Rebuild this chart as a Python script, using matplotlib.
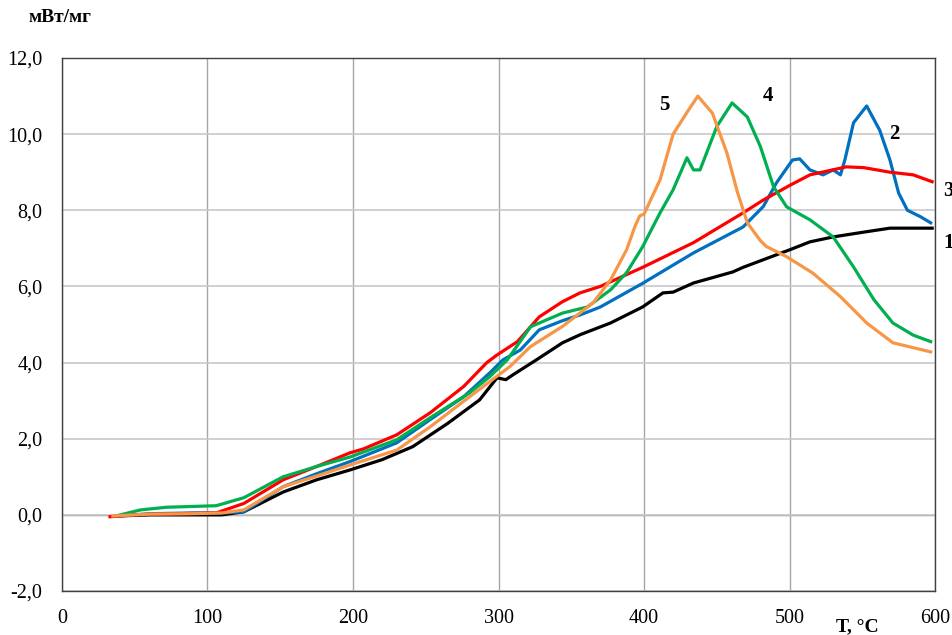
import matplotlib
matplotlib.use("Agg")
import matplotlib.pyplot as plt
from matplotlib.ticker import FuncFormatter, MultipleLocator

plt.rcParams["font.family"] = ["Liberation Serif", "DejaVu Serif"]

# curve 1 (black)
t1 = [38, 60, 90, 110, 125, 152, 175, 198, 220, 241, 265, 287, 299, 305, 310, 326,
      344, 356, 377, 399, 413, 420, 434, 461, 468, 500, 514, 530, 550, 569, 585, 598]
v1 = [-0.03, 0.0, 0.0, 0.0, 0.08, 0.6, 0.92, 1.18, 1.45, 1.79, 2.4, 3.02, 3.6, 3.55, 3.68, 4.07,
      4.52, 4.73, 5.04, 5.46, 5.83, 5.85, 6.09, 6.38, 6.5, 6.96, 7.17, 7.3, 7.42, 7.53, 7.53, 7.53]

# curve 2 (blue)
t2 = [38, 60, 90, 110, 125, 152, 175, 198, 230, 253, 276, 294, 303, 315, 328, 344, 356, 370,
      399, 434, 468, 475, 482, 491, 502, 507, 514, 523, 530, 535, 538, 544, 553, 562, 569,
      575, 581, 590, 597]
v2 = [-0.03, 0.03, 0.05, 0.05, 0.08, 0.74, 1.08, 1.4, 1.89, 2.5, 3.1, 3.73, 4.07, 4.33, 4.86,
      5.1, 5.25, 5.46, 6.08, 6.88, 7.56, 7.83, 8.1, 8.72, 9.32, 9.35, 9.06, 8.93, 9.06, 8.93,
      9.32, 10.3, 10.74, 10.1, 9.32, 8.45, 8.0, 7.83, 7.67]

# curve 3 (red)
t3 = [33, 49, 80, 106, 125, 152, 175, 198, 207, 230, 253, 276, 292, 299, 313, 328, 344, 356,
      370, 399, 434, 468, 482, 500, 514, 539, 551, 569, 585, 598]
v3 = [-0.05, 0.0, 0.03, 0.05, 0.3, 0.92, 1.27, 1.63, 1.73, 2.1, 2.68, 3.37, 4.0, 4.2, 4.55,
      5.2, 5.6, 5.83, 6.0, 6.5, 7.15, 7.93, 8.27, 8.65, 8.93, 9.14, 9.12, 9.0, 8.93, 8.75]

# curve 4 (green)
t4 = [38, 54, 72, 106, 125, 152, 175, 198, 230, 253, 280, 294, 306, 322, 344, 361, 377, 388,
      399, 411, 420, 429.5, 434, 438.5, 450, 460.5, 471, 480, 489, 498, 514, 530, 544, 558,
      571, 585, 597]
v4 = [-0.02, 0.13, 0.2, 0.24, 0.45, 1.0, 1.27, 1.52, 1.97, 2.55, 3.2, 3.63, 4.07, 4.94, 5.3,
      5.46, 5.91, 6.36, 7.04, 7.93, 8.54, 9.38, 9.06, 9.06, 10.2, 10.82, 10.45, 9.67, 8.62,
      8.09, 7.75, 7.3, 6.51, 5.65, 5.04, 4.72, 4.55]

# curve 5 (orange)
t5 = [35, 60, 90, 110, 125, 152, 175, 198, 230, 253, 280, 294, 308, 322, 344, 365, 377, 388,
      394, 397, 400, 411, 420, 430, 437, 447, 457, 464, 471, 480, 484, 498, 516, 535, 553,
      571, 597]
v5 = [-0.03, 0.02, 0.03, 0.05, 0.13, 0.74, 1.02, 1.31, 1.7, 2.31, 3.1, 3.5, 3.9, 4.42, 4.95,
      5.57, 6.17, 6.96, 7.6, 7.85, 7.9, 8.8, 10.0, 10.6, 11.0, 10.55, 9.5, 8.5, 7.67, 7.2,
      7.05, 6.78, 6.35, 5.73, 5.04, 4.52, 4.28]

labels = ["1", "2", "3", "4", "5"]
label_pos = [(609, 7.15), (572, 10.0), (609, 8.5), (485, 11.0), (414, 10.77)]

fig = plt.figure(figsize=(9.52, 6.35), dpi=100)
ax = fig.add_axes([0.0651, 0.0693, 0.9171, 0.8394])

lw = 2.3
ax.plot(t1, v1, color="black", lw=lw, zorder=3)
ax.plot(t2, v2, color="#0070C0", lw=lw, zorder=3)
ax.plot(t3, v3, color="#FF0000", lw=lw, zorder=3)
ax.plot(t4, v4, color="#00B050", lw=lw, zorder=3)
ax.plot(t5, v5, color="#F79646", lw=lw, zorder=3)

for lab, (x, y) in zip(labels, label_pos):
    ax.text(x, y, lab, fontsize=15, fontweight="bold", ha="center", va="center",
            clip_on=False)

ax.set_xlim(0, 600)
ax.set_ylim(-2, 12)
ax.xaxis.set_major_locator(MultipleLocator(100))
ax.yaxis.set_major_locator(MultipleLocator(2))
ax.yaxis.set_major_formatter(FuncFormatter(lambda v, p: f"{v:.1f}".replace(".", ",")))
ax.tick_params(length=0, labelsize=14.5)
ax.tick_params(axis="y", pad=14)
ax.tick_params(axis="x", pad=13)
ax.xaxis.grid(True, color="#a6a6a6", lw=1.0)
ax.yaxis.grid(True, color="#c8c8c8", lw=1.2)
ax.axhline(0, color="#808080", lw=1.0, zorder=1)
for s in ax.spines.values():
    s.set_color("#404040")
    s.set_linewidth(1.0)

fig.text(60 / 952, 1 - 18 / 635, "мВт/мг", fontsize=14, fontweight="bold",
         ha="center", va="center")
fig.text(857 / 952, 1 - 627 / 635, "Т, °С", fontsize=14, fontweight="bold",
         ha="center", va="center")

fig.savefig("out.png", dpi=100)
